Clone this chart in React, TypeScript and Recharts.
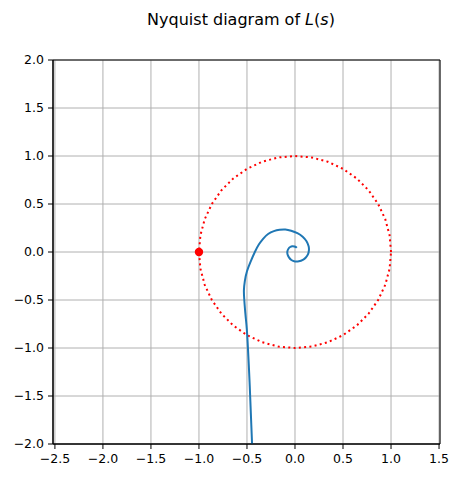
import { ComposedChart, Line, Scatter, XAxis, YAxis, CartesianGrid, ReferenceArea } from 'recharts';

const xTicks = [-2.5, -2.0, -1.5, -1.0, -0.5, 0.0, 0.5, 1.0, 1.5];
const yTicks = [-2.0, -1.5, -1.0, -0.5, 0.0, 0.5, 1.0, 1.5, 2.0];

// Nyquist curve (low frequency at the bottom, spiralling into the origin)
const nyquistCurve = [
  { x: -0.447, y: -2.0 },
  { x: -0.455, y: -1.8 },
  { x: -0.463, y: -1.6 },
  { x: -0.471, y: -1.4 },
  { x: -0.48, y: -1.2 },
  { x: -0.49, y: -1.0 },
  { x: -0.502, y: -0.8 },
  { x: -0.516, y: -0.65 },
  { x: -0.528, y: -0.5 },
  { x: -0.532, y: -0.4 },
  { x: -0.522, y: -0.3 },
  { x: -0.5, y: -0.2 },
  { x: -0.462, y: -0.1 },
  { x: -0.418, y: 0.0 },
  { x: -0.375, y: 0.08 },
  { x: -0.33, y: 0.14 },
  { x: -0.28, y: 0.188 },
  { x: -0.22, y: 0.218 },
  { x: -0.16, y: 0.232 },
  { x: -0.1, y: 0.235 },
  { x: -0.04, y: 0.222 },
  { x: 0.025, y: 0.197 },
  { x: 0.08, y: 0.16 },
  { x: 0.12, y: 0.112 },
  { x: 0.142, y: 0.06 },
  { x: 0.145, y: 0.02 },
  { x: 0.136, y: -0.022 },
  { x: 0.113, y: -0.057 },
  { x: 0.082, y: -0.082 },
  { x: 0.04, y: -0.097 },
  { x: 0.0, y: -0.098 },
  { x: -0.038, y: -0.083 },
  { x: -0.063, y: -0.056 },
  { x: -0.078, y: -0.024 },
  { x: -0.079, y: 0.008 },
  { x: -0.068, y: 0.034 },
  { x: -0.05, y: 0.052 },
  { x: -0.027, y: 0.06 },
  { x: -0.006, y: 0.057 },
  { x: 0.01, y: 0.05 },
  { x: 0.018, y: 0.043 },
];

// unit circle, every 10 degrees
const unitCircle = [
  { x: 1.0, y: 0.0 }, { x: 0.985, y: 0.174 }, { x: 0.94, y: 0.342 }, { x: 0.866, y: 0.5 },
  { x: 0.766, y: 0.643 }, { x: 0.643, y: 0.766 }, { x: 0.5, y: 0.866 }, { x: 0.342, y: 0.94 },
  { x: 0.174, y: 0.985 }, { x: 0.0, y: 1.0 }, { x: -0.174, y: 0.985 }, { x: -0.342, y: 0.94 },
  { x: -0.5, y: 0.866 }, { x: -0.643, y: 0.766 }, { x: -0.766, y: 0.643 }, { x: -0.866, y: 0.5 },
  { x: -0.94, y: 0.342 }, { x: -0.985, y: 0.174 }, { x: -1.0, y: 0.0 }, { x: -0.985, y: -0.174 },
  { x: -0.94, y: -0.342 }, { x: -0.866, y: -0.5 }, { x: -0.766, y: -0.643 }, { x: -0.643, y: -0.766 },
  { x: -0.5, y: -0.866 }, { x: -0.342, y: -0.94 }, { x: -0.174, y: -0.985 }, { x: 0.0, y: -1.0 },
  { x: 0.174, y: -0.985 }, { x: 0.342, y: -0.94 }, { x: 0.5, y: -0.866 }, { x: 0.643, y: -0.766 },
  { x: 0.766, y: -0.643 }, { x: 0.866, y: -0.5 }, { x: 0.94, y: -0.342 }, { x: 0.985, y: -0.174 },
  { x: 1.0, y: 0.0 },
];

const criticalPoint = [{ x: -1, y: 0 }];

const fmt = (v: number) => (v < 0 ? '\u2212' + Math.abs(v).toFixed(1) : v.toFixed(1));

const tickStyle = { fill: '#000', fontSize: 12.5, fontFamily: 'DejaVu Sans' };

export default function App() {
  return (
    <div style={{ position: 'absolute', left: 0, top: 0, width: 460, height: 478, background: '#fff', fontFamily: 'DejaVu Sans' }}>
      <div
        style={{
          position: 'absolute',
          left: 241,
          top: 12,
          transform: 'translateX(-50%)',
          fontSize: 16,
          lineHeight: 1,
          whiteSpace: 'nowrap',
          color: '#000',
        }}
      >
        Nyquist diagram of <i>L</i>(<i>s</i>)
      </div>
      <ComposedChart width={460} height={478} margin={{ top: 60, right: 20, bottom: 0, left: 0 }}>
        <CartesianGrid stroke="#b0b0b0" strokeWidth={1} />
        <XAxis
          type="number"
          dataKey="x"
          domain={[-2.52, 1.51]}
          ticks={xTicks}
          interval={0}
          allowDataOverflow
          height={34}
          tickSize={5}
          tickMargin={5}
          tick={tickStyle}
          tickFormatter={fmt}
          axisLine={{ stroke: '#000' }}
          tickLine={{ stroke: '#000' }}
        />
        <YAxis
          type="number"
          dataKey="y"
          domain={[-2, 2]}
          ticks={yTicks}
          interval={0}
          allowDataOverflow
          width={53}
          tickSize={5}
          tickMargin={4}
          tick={tickStyle}
          tickFormatter={fmt}
          axisLine={{ stroke: '#000' }}
          tickLine={{ stroke: '#000' }}
        />
        <Line
          data={unitCircle}
          dataKey="y"
          type="linear"
          dot={false}
          stroke="#ff0000"
          strokeWidth={2}
          strokeDasharray="2 3.3"
          isAnimationActive={false}
        />
        <Line
          data={nyquistCurve}
          dataKey="y"
          type="natural"
          dot={false}
          stroke="#1f77b4"
          strokeWidth={2}
          isAnimationActive={false}
        />
        <Scatter
          data={criticalPoint}
          fill="#ff0000"
          isAnimationActive={false}
          shape={(p: any) => <circle cx={p.cx} cy={p.cy} r={4.2} fill="#ff0000" />}
        />
        <ReferenceArea x1={-2.52} x2={1.51} y1={-2} y2={2} fill="none" stroke="#000" strokeWidth={1} ifOverflow="visible" />
      </ComposedChart>
    </div>
  );
}
